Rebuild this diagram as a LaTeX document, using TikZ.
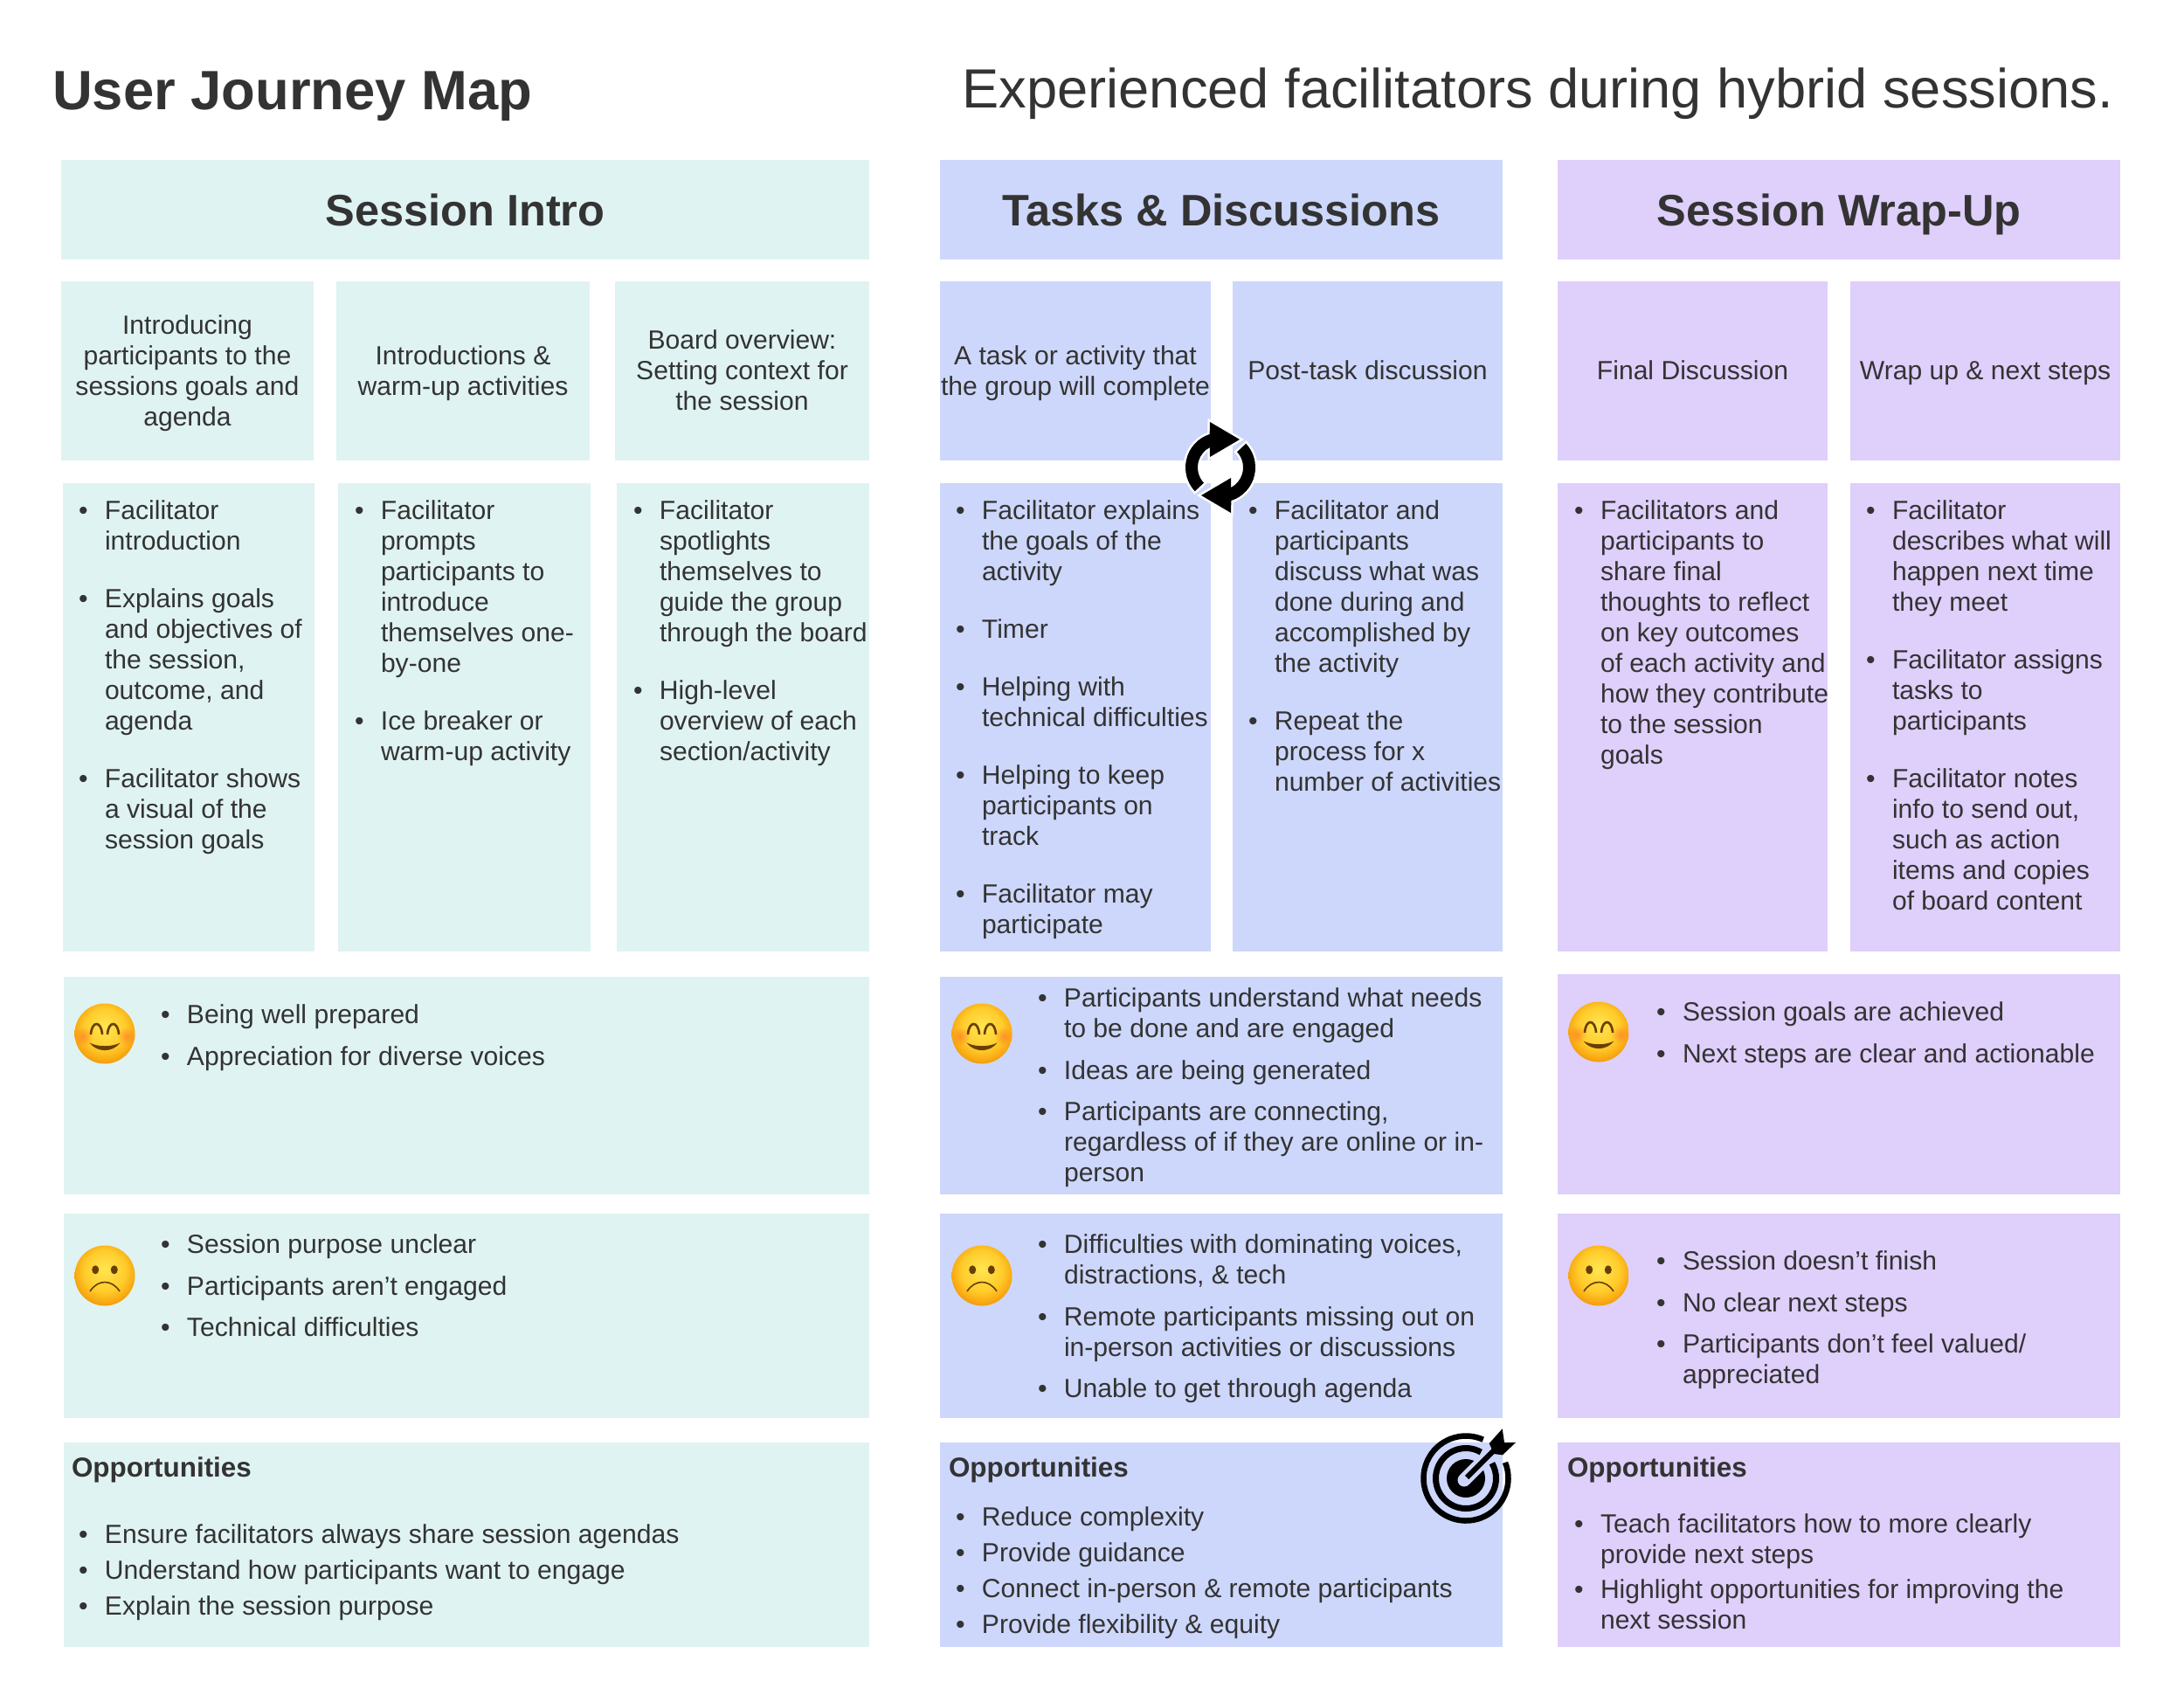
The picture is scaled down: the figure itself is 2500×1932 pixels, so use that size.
\documentclass[tikz,border=0pt]{standalone}
\usepackage{fontspec}
\setmainfont{Liberation Sans}
\usepackage{xcolor}
\usetikzlibrary{arrows.meta,positioning,fadings}
\definecolor{inkgray}{RGB}{51,51,51}
\definecolor{introteal}{RGB}{223,243,242}
\definecolor{taskblue}{RGB}{205,215,251}
\definecolor{wrappurple}{RGB}{223,207,251}
\definecolor{facecheek}{RGB}{255,130,40}
\definecolor{facebrown}{RGB}{105,62,5}
\pgfdeclareradialshading{faceglow}{\pgfpoint{0bp}{6bp}}{rgb(0bp)=(1,0.90,0.32); rgb(17bp)=(1,0.80,0.17); rgb(24bp)=(0.98,0.68,0.08); rgb(29bp)=(0.93,0.58,0.06); rgb(50bp)=(0.93,0.58,0.06)}
\tikzfading[name=cheekfade, inner color=transparent!0, outer color=transparent!100]
\newenvironment{bulletlist}{\begin{tabular}{@{}p{30pt}@{}l@{}}}{\end{tabular}}
\newcommand{\bl}{\textbullet}
\newcommand{\cs}{\rule[-7pt]{0pt}{34.5pt}}

\begin{document}
\begin{tikzpicture}[x=1pt, y=-1pt, every node/.style={font=\fontsize{30.1}{35}\selectfont, text=inkgray, inner sep=0pt, outer sep=0pt},
    cell/.style={anchor=north west, align=center},
    listnode/.style={anchor=north west, align=left},
    headtext/.style={font=\fontsize{50.5}{58}\selectfont\bfseries, text height=38pt, text depth=2pt},
    opphead/.style={anchor=base west, font=\fontsize{31.4}{36}\selectfont\bfseries},
    happyface/.pic={
      \begin{scope}[x=1pt, y=1pt]
        \shade[shading=faceglow] (0,0) circle (34.5pt);
        \fill[facecheek, path fading=cheekfade, opacity=0.75] (-25,-3) circle (11pt);
        \fill[facecheek, path fading=cheekfade, opacity=0.75] (25,-3) circle (11pt);
        \draw[facebrown, line width=2.6pt] (-16,-1) .. controls (-15,15) and (-4,15) .. (-3,-1);
        \draw[facebrown, line width=2.6pt] (3,-1) .. controls (4,15) and (15,15) .. (16,-1);
        \fill[facebrown] (-17.5,-10.5) .. controls (-9,-22) and (9,-22) .. (17.5,-10.5) .. controls (8,-15.5) and (-8,-15.5) .. (-17.5,-10.5) -- cycle;
      \end{scope}
    },
    sadface/.pic={
      \begin{scope}[x=1pt, y=1pt]
        \shade[shading=faceglow] (0,0) circle (34.5pt);
        \fill[facebrown] (-10.8,6.7) ellipse (4pt and 5pt);
        \fill[facebrown] (10.8,6.7) ellipse (4pt and 5pt);
        \draw[facebrown, line width=1.6pt] (-17,-18) .. controls (-8,-4) and (8,-4) .. (17,-18);
      \end{scope}
    },
    loopicon/.pic={
      \begin{scope}[x=1pt, y=1pt]
        \draw[white, line width=5pt, fill=white] (-12,12) -- (22,32) -- (-12,52) -- (108:40) arc[start angle=108, end angle=223, radius=40] -- (223:26) arc[start angle=223, end angle=118, radius=26] -- cycle;
        \draw[white, line width=5pt, fill=white] (12,-12) -- (-22,-32) -- (12,-52) -- (288:40) arc[start angle=288, end angle=403, radius=40] -- (403:26) arc[start angle=403, end angle=298, radius=26] -- cycle;
        \fill[black] (-12,12) -- (22,32) -- (-12,52) -- (108:40) arc[start angle=108, end angle=223, radius=40] -- (223:26) arc[start angle=223, end angle=118, radius=26] -- cycle;
        \fill[black] (12,-12) -- (-22,-32) -- (12,-52) -- (288:40) arc[start angle=288, end angle=403, radius=40] -- (403:26) arc[start angle=403, end angle=298, radius=26] -- cycle;
      \end{scope}
    },
    targeticon/.pic={
      \begin{scope}[x=1pt, y=1pt]
        \draw[black, line width=6.5pt] (66:48.5) arc[start angle=66, end angle=382, radius=48.5];
        \draw[black, line width=7pt] (60:34.5) arc[start angle=60, end angle=390, radius=34.5];
        \fill[black] (0,0) circle (22pt);
        \draw[taskblue, line width=15pt, line cap=round] (-2,-2) -- (30,30);
        \draw[black, line width=6pt] (1,1) -- (32,32);
        \fill[black] (26.7,40) -- (41.7,56.7) -- (44,41) -- (57,41) -- (42,26.7) -- (32,28) -- cycle;
      \end{scope}
    }]
  \useasboundingbox (0,0) rectangle (2500,1932);
  \node[anchor=base west, font=\fontsize{63.4}{72}\selectfont\bfseries] (maptitle) at (60,126) {User Journey Map};
  \node[anchor=base east, font=\fontsize{63.2}{72}\selectfont] (mapsubtitle) at (2419,124) {Experienced facilitators during hybrid sessions.};

  \node[cell, fill=introteal, minimum width=925pt, minimum height=114pt, headtext] (introhead) at (70,183) {Session Intro};
  \node[cell, fill=taskblue, minimum width=644pt, minimum height=114pt, headtext] (taskhead) at (1076,183) {Tasks \& Discussions};
  \node[cell, fill=wrappurple, minimum width=644pt, minimum height=114pt, headtext] (wraphead) at (1783,183) {Session Wrap-Up};

  \node[cell, fill=introteal, minimum width=289pt, minimum height=205pt] (introsuba) at (70,322) {\cs Introducing\\participants to the\\sessions goals and\\agenda\cs};
  \node[cell, fill=introteal, minimum width=290pt, minimum height=205pt] (introsubb) at (385,322) {\cs Introductions \&\\warm-up activities\cs};
  \node[cell, fill=introteal, minimum width=291pt, minimum height=205pt] (introsubc) at (704,322) {\cs Board overview:\\Setting context for\\the session\cs};
  \node[cell, fill=taskblue, minimum width=310pt, minimum height=205pt] (tasksuba) at (1076,322) {\cs A task or activity that\\the group will complete\cs};
  \node[cell, fill=taskblue, minimum width=309pt, minimum height=205pt] (tasksubb) at (1411,322) {\cs Post-task discussion};
  \node[cell, fill=wrappurple, minimum width=309pt, minimum height=205pt] (wrapsuba) at (1783,322) {\cs Final Discussion};
  \node[cell, fill=wrappurple, minimum width=309pt, minimum height=205pt] (wrapsubb) at (2118,322) {\cs Wrap up \& next steps};

  \node[cell, fill=introteal, minimum width=288pt, minimum height=536pt] (introstepa) at (72,553) {};
  \node[cell, fill=introteal, minimum width=289pt, minimum height=536pt] (introstepb) at (387,553) {};
  \node[cell, fill=introteal, minimum width=289pt, minimum height=536pt] (introstepc) at (706,553) {};
  \node[cell, fill=taskblue, minimum width=310pt, minimum height=536pt] (taskstepa) at (1076,553) {};
  \node[cell, fill=taskblue, minimum width=309pt, minimum height=536pt] (taskstepb) at (1411,553) {};
  \node[cell, fill=wrappurple, minimum width=309pt, minimum height=536pt] (wrapstepa) at (1783,553) {};
  \node[cell, fill=wrappurple, minimum width=309pt, minimum height=536pt] (wrapstepb) at (2118,553) {};

  \node[cell, fill=introteal, minimum width=922pt, minimum height=249pt] (introgood) at (73,1118) {};
  \node[cell, fill=taskblue, minimum width=644pt, minimum height=249pt] (taskgood) at (1076,1118) {};
  \node[cell, fill=wrappurple, minimum width=644pt, minimum height=252pt] (wrapgood) at (1783,1115) {};
  \node[cell, fill=introteal, minimum width=922pt, minimum height=234pt] (introbad) at (73,1389) {};
  \node[cell, fill=taskblue, minimum width=644pt, minimum height=234pt] (taskbad) at (1076,1389) {};
  \node[cell, fill=wrappurple, minimum width=644pt, minimum height=234pt] (wrapbad) at (1783,1389) {};
  \node[cell, fill=introteal, minimum width=922pt, minimum height=234pt] (introopp) at (73,1651) {};
  \node[cell, fill=taskblue, minimum width=644pt, minimum height=234pt] (taskopp) at (1076,1651) {};
  \node[cell, fill=wrappurple, minimum width=644pt, minimum height=234pt] (wrapopp) at (1783,1651) {};

  \node[listnode] (introlista) at (90,570) {\begin{bulletlist}
    \bl & Facilitator\\ & introduction\\[31pt]
    \bl & Explains goals\\ & and objectives of\\ & the session,\\ & outcome, and\\ & agenda\\[31pt]
    \bl & Facilitator shows\\ & a visual of the\\ & session goals
  \end{bulletlist}};
  \node[listnode] (introlistb) at (406,570) {\begin{bulletlist}
    \bl & Facilitator\\ & prompts\\ & participants to\\ & introduce\\ & themselves one-\\ & by-one\\[31pt]
    \bl & Ice breaker or\\ & warm-up activity
  \end{bulletlist}};
  \node[listnode] (introlistc) at (725,570) {\begin{bulletlist}
    \bl & Facilitator\\ & spotlights\\ & themselves to\\ & guide the group\\ & through the board\\[31pt]
    \bl & High-level\\ & overview of each\\ & section/activity
  \end{bulletlist}};
  \node[listnode] (tasklista) at (1094,570) {\begin{bulletlist}
    \bl & Facilitator explains\\ & the goals of the\\ & activity\\[31pt]
    \bl & Timer\\[31pt]
    \bl & Helping with\\ & technical difficulties\\[31pt]
    \bl & Helping to keep\\ & participants on\\ & track\\[31pt]
    \bl & Facilitator may\\ & participate
  \end{bulletlist}};
  \node[listnode] (tasklistb) at (1429,570) {\begin{bulletlist}
    \bl & Facilitator and\\ & participants\\ & discuss what was\\ & done during and\\ & accomplished by\\ & the activity\\[31pt]
    \bl & Repeat the\\ & process for x\\ & number of activities
  \end{bulletlist}};
  \node[listnode] (wraplista) at (1802,570) {\begin{bulletlist}
    \bl & Facilitators and\\ & participants to\\ & share final\\ & thoughts to reflect\\ & on key outcomes\\ & of each activity and\\ & how they contribute\\ & to the session\\ & goals
  \end{bulletlist}};
  \node[listnode] (wraplistb) at (2136,570) {\begin{bulletlist}
    \bl & Facilitator\\ & describes what will\\ & happen next time\\ & they meet\\[31pt]
    \bl & Facilitator assigns\\ & tasks to\\ & participants\\[31pt]
    \bl & Facilitator notes\\ & info to send out,\\ & such as action\\ & items and copies\\ & of board content
  \end{bulletlist}};

  \node[listnode] (introgoodlist) at (184,1147) {\begin{bulletlist}
    \bl & Being well prepared\\[12.5pt]
    \bl & Appreciation for diverse voices
  \end{bulletlist}};
  \node[listnode] (taskgoodlist) at (1188,1128) {\begin{bulletlist}
    \bl & Participants understand what needs\\ & to be done and are engaged\\[12.5pt]
    \bl & Ideas are being generated\\[12.5pt]
    \bl & Participants are connecting,\\ & regardless of if they are online or in-\\ & person
  \end{bulletlist}};
  \node[listnode] (wrapgoodlist) at (1896,1144) {\begin{bulletlist}
    \bl & Session goals are achieved\\[12.5pt]
    \bl & Next steps are clear and actionable
  \end{bulletlist}};
  \node[listnode] (introbadlist) at (184,1410) {\begin{bulletlist}
    \bl & Session purpose unclear\\[12.5pt]
    \bl & Participants aren’t engaged\\[12.5pt]
    \bl & Technical difficulties
  \end{bulletlist}};
  \node[listnode] (taskbadlist) at (1188,1410) {\begin{bulletlist}
    \bl & Difficulties with dominating voices,\\ & distractions, \& tech\\[12.5pt]
    \bl & Remote participants missing out on\\ & in-person activities or discussions\\[12.5pt]
    \bl & Unable to get through agenda
  \end{bulletlist}};
  \node[listnode] (wrapbadlist) at (1896,1429) {\begin{bulletlist}
    \bl & Session doesn’t finish\\[12.5pt]
    \bl & No clear next steps\\[12.5pt]
    \bl & Participants don’t feel valued/\\ & appreciated
  \end{bulletlist}};

  \node[opphead] (introopphead) at (82,1690.5) {Opportunities};
  \node[opphead] (taskopphead) at (1086,1690.5) {Opportunities};
  \node[opphead] (wrapopphead) at (1794,1690.5) {Opportunities};
  \node[listnode] (introopplist) at (90,1742) {\begin{bulletlist}
    \bl & Ensure facilitators always share session agendas\\[6pt]
    \bl & Understand how participants want to engage\\[6pt]
    \bl & Explain the session purpose
  \end{bulletlist}};
  \node[listnode] (taskopplist) at (1094,1722) {\begin{bulletlist}
    \bl & Reduce complexity\\[6pt]
    \bl & Provide guidance\\[6pt]
    \bl & Connect in-person \& remote participants\\[6pt]
    \bl & Provide flexibility \& equity
  \end{bulletlist}};
  \node[listnode] (wrapopplist) at (1802,1729.5) {\begin{bulletlist}
    \bl & Teach facilitators how to more clearly\\ & provide next steps\\[5pt]
    \bl & Highlight opportunities for improving the\\ & next session
  \end{bulletlist}};

  \pic at (120,1183) {happyface};
  \pic at (1124,1183) {happyface};
  \pic at (1830,1181) {happyface};
  \pic at (120,1460) {sadface};
  \pic at (1124,1460) {sadface};
  \pic at (1830,1460) {sadface};
  \pic at (1397,535) {loopicon};
  \pic at (1678,1692) {targeticon};
\end{tikzpicture}
\end{document}
